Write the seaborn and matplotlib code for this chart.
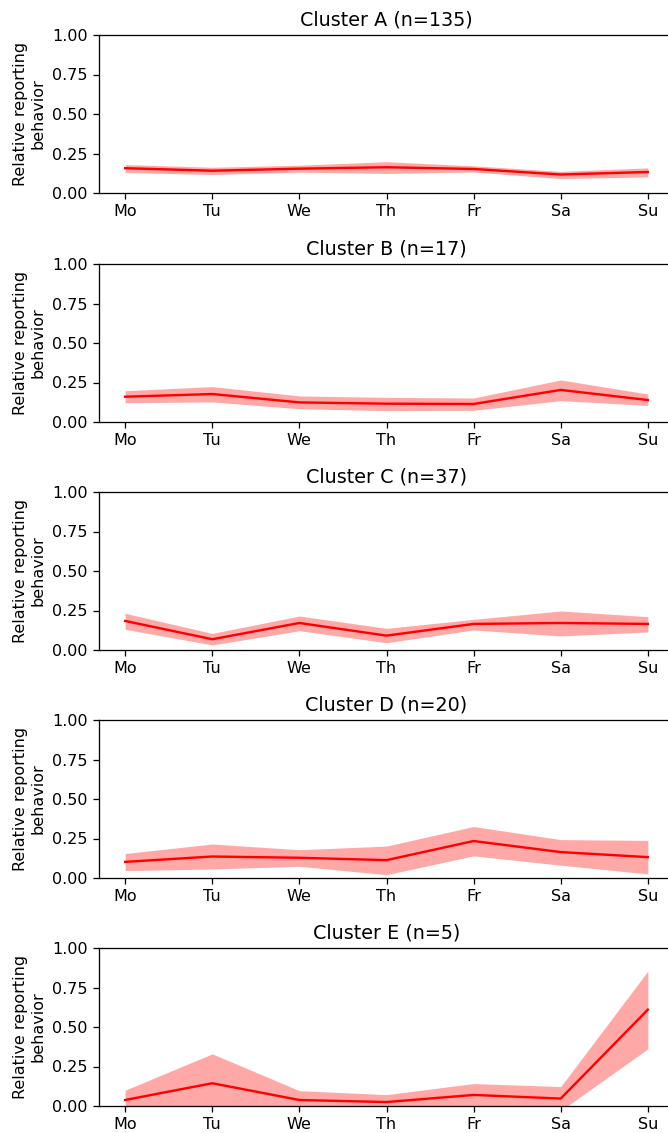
import numpy as np
import pandas as pd
import matplotlib
matplotlib.use('Agg')
import matplotlib.pyplot as plt
import seaborn as sns

# weekdays and clusters
days = ['Mo', 'Tu', 'We', 'Th', 'Fr', 'Sa', 'Su']
clusters = ['Cluster A (n=135)', 'Cluster B (n=17)', 'Cluster C (n=37)',
            'Cluster D (n=20)', 'Cluster E (n=5)']

# mean relative reporting behavior per weekday
mean_a = [0.157, 0.141, 0.154, 0.163, 0.152, 0.117, 0.133]
mean_b = [0.160, 0.177, 0.124, 0.116, 0.114, 0.203, 0.139]
mean_c = [0.184, 0.068, 0.171, 0.091, 0.165, 0.171, 0.165]
mean_d = [0.102, 0.136, 0.128, 0.113, 0.234, 0.164, 0.132]
mean_e = [0.038, 0.144, 0.038, 0.025, 0.070, 0.047, 0.610]

# upper / lower band limits
upper_a = [0.180, 0.163, 0.176, 0.198, 0.172, 0.137, 0.159]
lower_a = [0.130, 0.117, 0.132, 0.124, 0.133, 0.091, 0.102]
upper_b = [0.198, 0.224, 0.165, 0.156, 0.152, 0.266, 0.177]
lower_b = [0.122, 0.127, 0.084, 0.072, 0.074, 0.135, 0.105]
upper_c = [0.232, 0.105, 0.215, 0.137, 0.194, 0.247, 0.211]
lower_c = [0.131, 0.032, 0.122, 0.046, 0.127, 0.089, 0.114]
upper_d = [0.155, 0.215, 0.179, 0.202, 0.326, 0.243, 0.238]
lower_d = [0.047, 0.057, 0.074, 0.021, 0.140, 0.081, 0.026]
upper_e = [0.100, 0.330, 0.097, 0.072, 0.142, 0.123, 0.854]
lower_e = [-0.020, -0.040, -0.020, -0.020, -0.020, -0.030, 0.362]

means = [mean_a, mean_b, mean_c, mean_d, mean_e]
uppers = [upper_a, upper_b, upper_c, upper_d, upper_e]
lowers = [lower_a, lower_b, lower_c, lower_d, lower_e]

yticks = [0.0, 0.25, 0.5, 0.75, 1.0]

# rendered at a slightly higher dpi so text and lines come out a bit larger
DPI = 115
W, H = 668, 1133
fig = plt.figure(figsize=(W / DPI, H / DPI), dpi=DPI)

tops = [35, 264, 492, 720, 948]
for i in range(5):
    ax = fig.add_axes([99 / W, 1 - (tops[i] + 158) / H, 575 / W, 158 / H])
    df = pd.DataFrame({'day': np.arange(7), 'value': means[i]})
    ax.fill_between(df['day'], lowers[i], uppers[i], color='red', alpha=0.34, linewidth=0)
    sns.lineplot(data=df, x='day', y='value', color='red', linewidth=1.5, ax=ax)
    ax.set_ylim(0, 1)
    ax.set_yticks(yticks)
    ax.set_xticks(np.arange(7))
    ax.set_xticklabels(days)
    ax.set_xlabel('')
    ax.set_ylabel('Relative reporting\nbehavior')
    ax.set_title(clusters[i], fontsize=12)

fig.savefig('out.png', dpi=DPI)
